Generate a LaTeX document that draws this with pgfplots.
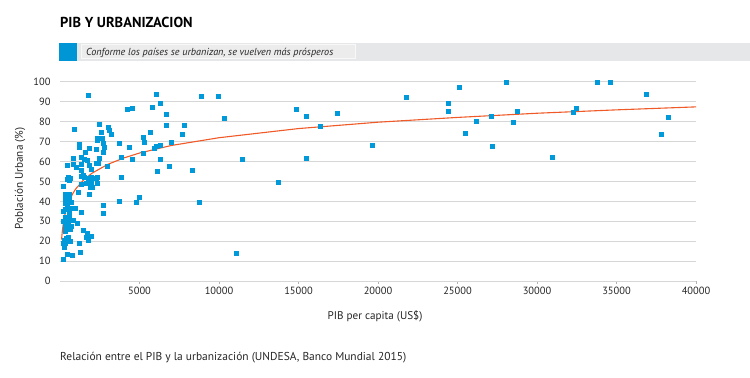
\documentclass[border=0pt]{standalone}
\usepackage{pgfplots}
\pgfplotsset{compat=1.18}
\usepackage{fontspec}
\setmainfont{PT Sans}
\definecolor{ptblue}{RGB}{0,153,218}
\definecolor{bannerblue}{RGB}{0,150,214}
\definecolor{trendorange}{RGB}{240,90,40}
\definecolor{bargray}{RGB}{230,231,232}
\definecolor{innergray}{RGB}{236,236,237}
\definecolor{gridgray}{RGB}{214,214,214}
\begin{document}
\begin{tikzpicture}[x=1bp,y=1bp]
\path[use as bounding box] (0,0) rectangle (750,377);
% title
\node[anchor=base west, inner sep=0pt, font=\fontsize{14.5}{16}\selectfont\bfseries] at (60,350) {PIB Y URBANIZACION};
% banner
\fill[bannerblue] (59,316) rectangle (77,334.3);
\fill[bargray] (77,316) rectangle (750,334.3);
\filldraw[fill=innergray, draw=white!70!bargray, line width=0.8bp] (81,318.3) rectangle (355,332.3);
\node[anchor=base west, inner sep=0pt, font=\fontsize{10.2}{12}\selectfont\itshape, text=black!85] at (86,321.5) {Conforme los países se urbanizan, se vuelven más prósperos};
% axis labels and caption
\node[rotate=90, inner sep=0pt, font=\fontsize{11.2}{13}\selectfont, text=black!85] at (20,198.5) {Población Urbana (\%)};
\node[inner sep=0pt, font=\fontsize{11.2}{13}\selectfont, text=black!85] at (375,61) {PIB per capita (US\$)};
\node[anchor=west, inner sep=0pt, font=\fontsize{11.5}{13}\selectfont, text=black!85] at (60,19) {Relación entre el PIB y la urbanización (UNDESA, Banco Mundial 2015)};
\begin{axis}[
  at={(60bp,96bp)}, anchor=south west,
  scale only axis, width=636bp, height=199bp,
  xmin=0, xmax=40000, ymin=0, ymax=100,
  axis lines*=left,
  y axis line style={draw=none},
  x axis line style={draw=gridgray, line width=1bp},
  ymajorgrids, grid style={draw=gridgray, line width=1bp},
  ytick={0,10,...,100},
  xtick={5000,10000,...,40000},
  scaled x ticks=false,
  tick align=outside, major tick length=3bp,
  ytick style={draw=none},
  xtick style={draw=gray!60, line width=0.6bp},
  tick label style={font=\fontsize{10.5}{12}\selectfont, text=black!85},
  yticklabel style={xshift=-3bp},
  /pgf/number format/assume math mode=true,
  /pgf/number format/1000 sep={},
  clip=false,
]
\addplot[only marks, color=ptblue, mark=square*, mark size=2bp, mark options={line width=0.3bp, draw=ptblue, fill=ptblue}] coordinates {
(1780,93.3) (900,76.1) (4230,86.3) (4530,86.8) (6040,93.7) (6290,89.3) (5800,87.5)
(8870,92.8) (9960,92.8) (10310,82.0) (6650,83.6) (6650,78.3) (7800,78.3) (7690,73.8)
(7000,69.9) (5660,74.8) (5260,72.4) (5300,69.9) (4360,67.4) (3730,69.4) (6040,67.7)
(6290,68.3) (5900,66.9) (5240,64.4) (3820,62.0) (4510,61.0) (6290,61.0) (11470,61.0)
(6140,55.3) (6860,57.7) (8320,55.8) (2940,57.7) (3820,52.3) (3710,40.3) (4990,42.1)
(4760,39.6) (8740,39.6) (11050,13.9) (2730,38.1) (2730,34.3) (14840,86.3) (15510,82.9)
(17400,84.4) (16350,77.8) (15510,61.6) (13730,49.8) (19640,68.4) (21800,92.3)
(24420,89.3) (24420,85.5) (25090,97.5) (25470,74.3) (26200,80.4) (27110,82.9)
(27190,67.9) (28030,100) (28510,79.6) (28760,85.5) (30960,62.1) (32300,84.9)
(32490,87.0) (33770,100) (34610,100) (36840,93.8) (37800,73.8) (38220,82.4)
(2450,78.6) (2560,74.8) (3000,77.4) (3080,75.8) (3190,73.6) (2310,71.9) (2310,70.9)
(2620,71.6) (2730,69.4) (1210,68.7) (1210,67.4) (1840,66.9) (2260,66.2) (1610,64.9)
(2790,67.1) (2730,64.7) (800,61.9) (1300,62.1) (1530,61.2) (1680,60.7) (2450,61.6)
(2410,59.1) (2260,59.4) (420,58.2) (800,58.9) (1010,57.4) (1360,58.7) (1820,58.2)
(1320,55.7) (1930,56.2) (1470,53.2) (1340,52.7) (1530,52.3) (1840,51.8) (1930,52.3)
(520,52.3) (630,51.8) (480,51.0) (580,50.7) (2310,52.3) (2250,51.5) (1780,50.2)
(1990,49.8) (1640,49.0) (2310,49.0) (2010,47.0) (1890,47.3) (210,47.8) (1300,48.7)
(1840,43.7) (1150,44.5) (310,43.7) (460,42.7) (580,43.7) (310,41.5) (450,40.0)
(600,41.0) (310,39.3) (170,35.3) (420,36.5) (630,36.5) (840,36.5) (940,36.5)
(1300,34.8) (170,30.3) (350,32.0) (450,30.5) (520,29.0) (400,28.0) (600,31.5)
(840,30.6) (1050,28.9) (690,27.6) (310,27.6) (500,26.5) (650,26.0) (520,22.2)
(380,21.4) (260,20.7) (420,19.9) (300,19.0) (210,18.9) (630,20.2) (250,16.9)
(1430,25.6) (1680,23.9) (1840,22.7) (1640,21.9) (1780,20.6) (1930,22.7) (1210,18.9)
(1280,14.4) (420,13.4) (740,12.9) (170,10.9) (350,25.0) (560,34.0) (300,36.0)
(480,38.5) (700,39.5)
};
\addplot[trendorange, line width=1.1bp] coordinates {
(100,20.8) (120,22.8) (150,25.3) (200,28.5) (250,31.0) (300,33.0) (400,36.2)
(600,40.7) (800,43.9) (1000,46.4) (1500,50.9) (2000,54.1) (3000,58.6) (4000,61.8)
(5000,64.3) (7000,68.1) (10000,72.0) (15000,76.6) (20000,79.8) (25000,82.2)
(30000,84.3) (35000,86.0) (40000,87.5)
};
\end{axis}
\end{tikzpicture}
\end{document}
